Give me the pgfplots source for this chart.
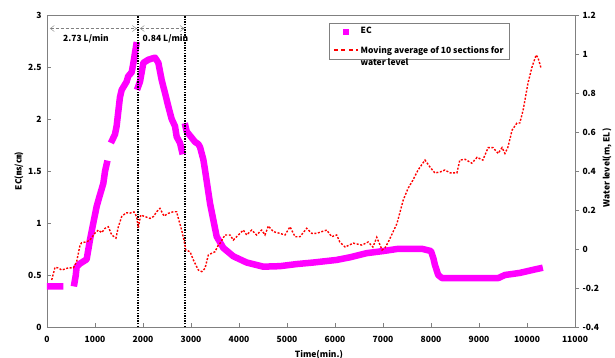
\documentclass[border=0pt]{standalone}
\usepackage{pgfplots}
\pgfplotsset{compat=1.18}
\usetikzlibrary{arrows.meta}
\usepackage{fontspec}
\setmainfont{Noto Sans CJK KR}
\definecolor{ecmag}{HTML}{FF00FF}
\definecolor{wlred}{HTML}{FF0000}
\definecolor{axgray}{HTML}{808080}
\begin{document}
\begin{tikzpicture}[font=\bfseries\fontsize{8.5}{12}\selectfont]
\path[use as bounding box] (-47pt,-31pt) rectangle (568pt,327pt);
\begin{axis}[
  scale only axis, width=528pt, height=312pt,
  xmin=0, xmax=11000, ymin=0, ymax=3,
  xtick={0,1000,...,11000}, ytick={0,0.5,...,3},
  scaled x ticks=false,
  /pgf/number format/.cd, 1000 sep={}, assume math mode=true, /pgfplots/.cd,
  xtick pos=bottom, ytick pos=left, tick align=inside,
  major tick length=4pt,
  axis line style={axgray}, tick style={axgray},
  tick label style={font=\bfseries\fontsize{8.5}{10}\selectfont},
  xticklabel style={yshift=-6pt},
  yticklabel style={xshift=-2pt},
  xlabel={Time(min.)},
  xlabel style={at={(axis description cs:0.515,0)}, anchor=north, yshift=-20pt},
  ylabel={EC(㎳/㎝)},
  ylabel style={at={(axis description cs:-0.053,0.5)}, anchor=center, rotate=0},
  unbounded coords=jump,
]
\addplot[ecmag, line width=6.5pt, line cap=butt, line join=round] coordinates {
(0,0.39) (100,0.39) (200,0.39) (340,0.39) (450,nan)
(560,0.39) (600,0.5) (618,0.58) (688,0.61) (826,0.65) (896,0.84) (965,1.0) (1035,1.16) (1090,1.25) (1173,1.38) (1210,1.5) (1260,1.6) (1300,nan)
(1330,1.77) (1415,1.85) (1450,1.93) (1520,2.21) (1556,2.28) (1660,2.36) (1690,2.41) (1765,2.45) (1800,2.54) (1870,2.74) (1872,nan)
(1875,2.28) (1938,2.36) (2007,2.54) (2111,2.57) (2250,2.59) (2320,2.54) (2389,2.375) (2458,2.25) (2528,2.12) (2597,2.0) (2667,1.93) (2701,1.83) (2771,1.77) (2826,1.66) (2850,nan)
(2870,1.96) (2910,1.88) (2944,1.86) (3014,1.82) (3083,1.78) (3150,1.76) (3188,1.73) (3257,1.61) (3292,1.51) (3396,1.19) (3465,1.03) (3535,0.87) (3674,0.76) (3882,0.68) (4160,0.62) (4507,0.58) (4854,0.585) (5201,0.605) (5549,0.62) (6035,0.645) (6310,0.67) (6660,0.71) (7000,0.73) (7290,0.75) (7830,0.75) (8000,0.73) (8050,0.66) (8080,0.6) (8150,0.5) (8230,0.47) (9400,0.47) (9540,0.5) (9850,0.52) (10130,0.55) (10330,0.57)
};
\addplot[black, line width=1.6pt, dash pattern=on 1.4pt off 1.2pt] coordinates {(1900,0) (1900,3)};
\addplot[black, line width=1.6pt, dash pattern=on 1.4pt off 1.2pt] coordinates {(2880,0) (2880,3)};
\addplot[gray, thin, densely dashed, {Straight Barb[length=4pt,width=6pt]}-{Straight Barb[length=4pt,width=6pt]}] coordinates {(62,2.87) (1868,2.87)};
\addplot[gray, thin, densely dashed, {Straight Barb[length=4pt,width=6pt]}-{Straight Barb[length=4pt,width=6pt]}] coordinates {(1938,2.87) (2861,2.87)};
\node at (axis cs:812,2.77) {2.73 L/min};
\node[anchor=west, inner sep=0pt] at (axis cs:1990,2.77) {0.84 L/min};
\end{axis}
\begin{axis}[
  scale only axis, width=528pt, height=312pt,
  xmin=0, xmax=11000, ymin=-0.4, ymax=1.2,
  axis x line=none, axis y line*=right,
  ytick={-0.4,-0.2,0,0.2,0.4,0.6,0.8,1,1.2},
  yticklabels={-0.4,-0.2,0,0.2,0.4,0.6,0.8,1,1.2},
  tick align=outside, major tick length=4pt,
  axis line style={axgray}, tick style={axgray},
  tick label style={font=\bfseries\fontsize{8.5}{10}\selectfont},
  ylabel={Water level(m, EL)},
  ylabel style={at={(axis description cs:1.0606,0.51)}, anchor=center, rotate=0},
  legend style={at={(0.534,0.974)}, anchor=north west, draw=axgray, fill=white,
    font=\bfseries\fontsize{8.5}{12}\selectfont, row sep=6pt, inner xsep=4pt, inner ysep=2pt},
  legend cell align=left,
]
\addlegendimage{legend image code/.code={\fill[ecmag] (9pt,-2.5pt) rectangle (14.5pt,2.5pt);}}
\addlegendentry{EC}
\addplot[wlred, line width=1.4pt, dash pattern=on 2pt off 1.6pt,
  legend image code/.code={\draw[wlred, line width=1.5pt, dash pattern=on 4pt off 3.5pt] (0pt,0pt) -- (24pt,0pt);}] coordinates {
(98,-0.159) (167,-0.094) (236,-0.097) (306,-0.108) (440,-0.097) (550,-0.097) (618,-0.065) (688,0.02) (722,0.032) (826,0.037) (896,0.046) (1000,0.082) (1070,0.097) (1140,0.084) (1208,0.106) (1278,0.114) (1348,0.072) (1437,0.056) (1486,0.114) (1556,0.166) (1645,0.186) (1729,0.184) (1812,0.19) (1868,0.166) (1902,0.108) (1952,0.174) (2042,0.166) (2146,0.157) (2215,0.166) (2285,0.191) (2354,0.208) (2437,0.169) (2528,0.183) (2632,0.191) (2700,0.191) (2736,0.157) (2806,0.097) (2861,0.037) (2890,-0.005) (2980,-0.014) (3049,-0.056) (3153,-0.108) (3223,-0.116) (3292,-0.099) (3361,-0.031) (3431,-0.022) (3500,-0.014) (3569,0.02) (3604,0.029) (3708,0.072) (3812,0.072) (3882,0.046) (3986,0.072) (4090,0.097) (4160,0.072) (4264,0.097) (4368,0.072) (4472,0.097) (4542,0.072) (4611,0.118) (4715,0.089) (4854,0.08) (4958,0.072) (5063,0.114) (5167,0.063) (5271,0.063) (5410,0.106) (5514,0.08) (5618,0.08) (5723,0.089) (5827,0.097) (5931,0.063) (6035,0.072) (6100,0.036) (6210,0.01) (6380,0.03) (6560,0.02) (6690,0.036) (6790,0.01) (6870,0.06) (6980,-0.005) (7040,0.005) (7110,0.036) (7290,0.13) (7420,0.25) (7520,0.31) (7625,0.354) (7730,0.405) (7875,0.456) (7980,0.42) (8080,0.39) (8190,0.395) (8290,0.405) (8400,0.39) (8540,0.39) (8600,0.456) (8710,0.46) (8850,0.44) (8960,0.47) (9080,0.456) (9190,0.52) (9290,0.52) (9400,0.49) (9480,0.52) (9540,0.49) (9600,0.52) (9690,0.61) (9790,0.646) (9850,0.646) (9920,0.713) (10020,0.85) (10100,0.93) (10190,0.995) (10230,0.98) (10290,0.93)
};
\addlegendentry{\begin{tabular}[t]{@{}l@{}}Moving average of 10 sections for\\water level\end{tabular}}
\end{axis}
\end{tikzpicture}
\end{document}
